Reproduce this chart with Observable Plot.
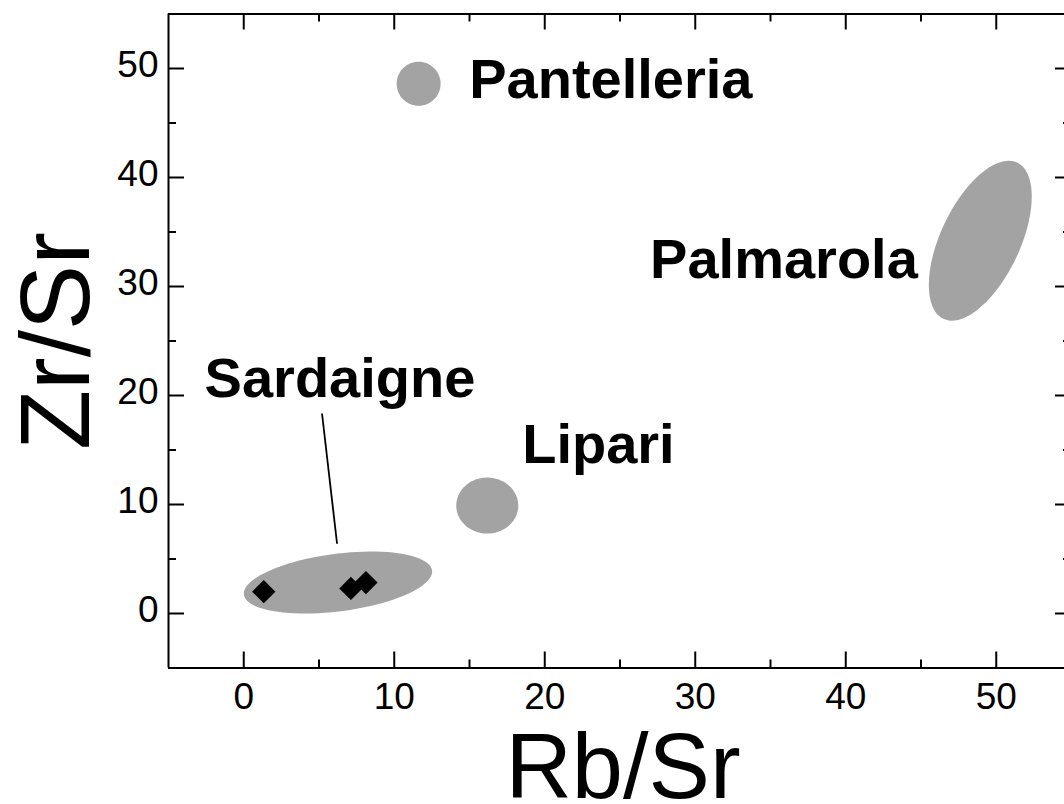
<!DOCTYPE html>
<html>
<head>
<meta charset="utf-8">
<script src="https://cdn.jsdelivr.net/npm/d3@7"></script>
<script src="https://cdn.jsdelivr.net/npm/@observablehq/plot@0.6"></script>
<style>
  html, body { margin: 0; padding: 0; background: #fff; overflow: hidden; }
  #chart svg { display: block; }
</style>
</head>
<body>
<svg width="0" height="0" style="position:absolute">
  <defs>
    <pattern id="halftone" width="2" height="2" patternUnits="userSpaceOnUse">
      <rect width="2" height="2" fill="#bdbdbd"></rect>
      <rect width="1" height="1" fill="#858585"></rect>
      <rect x="1" y="1" width="1" height="1" fill="#8c8c8c"></rect>
    </pattern>
  </defs>
</svg>
<div id="chart"></div>
<script>
// ---- data ----
const regions   = ["Sardaigne", "Lipari", "Palmarola", "Pantelleria"];
const centerX   = [6.26, 16.18, 48.94, 11.62];   // Rb/Sr centre of each field
const centerY   = [2.84, 9.9, 34.2, 48.6];       // Zr/Sr centre of each field
const axisAx    = [6.25, 2.06, 2.45, 1.46];      // first semi-axis (data units)
const axisAy    = [1.11, 0, 7.17, 0];
const axisBx    = [-0.246, 0, 2.385, 0];         // second semi-axis (data units)
const axisBy    = [2.62, 2.57, -1.555, 2.02];

const sampleX   = [1.33, 7.12, 8.12];            // black diamonds
const sampleY   = [2.0, 2.3, 2.84];

const labelText = ["Pantelleria", "Palmarola", "Sardaigne", "Lipari"];
const labelX    = [14.98, 27.0, -2.6, 18.5];
const labelY    = [47.3, 30.8, 19.9, 13.85];

const leaderX1 = [5.2], leaderY1 = [18.35], leaderX2 = [6.2], leaderY2 = [6.4];

const majorTicks = [0, 10, 20, 30, 40, 50];
const minorTicks = [5, 15, 25, 35, 45];
const frameEdges = [-5, 55];

// ---- ellipse outlines from centre + semi-axes ----
const ellipsePts = [];
regions.forEach((r, i) => {
  for (let k = 0; k < 90; k++) {
    const t = (2 * Math.PI * k) / 90;
    ellipsePts.push({
      region: r,
      x: centerX[i] + axisAx[i] * Math.cos(t) + axisBx[i] * Math.sin(t),
      y: centerY[i] + axisAy[i] * Math.cos(t) + axisBy[i] * Math.sin(t)
    });
  }
});
const samples = sampleX.map((x, i) => ({x, y: sampleY[i]}));
const labels = labelText.map((t, i) => ({t, x: labelX[i], y: labelY[i]}));
const leader = [{x1: leaderX1[0], y1: leaderY1[0], x2: leaderX2[0], y2: leaderY2[0]}];

const W = 1064, H = 804, mL = 168, mR = 0, mT = 13.5, mB = 136.5;
const xRight = 1071; // right spine lies just outside the picture
const plotW = W - mL - mR, plotH = H - mT - mB;
const major = 16, minor = 8;
const tick = {stroke: "#000", strokeWidth: 2};

const chart = Plot.plot({
  width: W,
  height: H,
  marginLeft: mL,
  marginRight: mR,
  marginTop: mT,
  marginBottom: mB,
  style: {fontFamily: "'Liberation Sans', Arial, sans-serif", background: "#fff", color: "#000"},
  x: {domain: [-5, 55], range: [mL, xRight]},
  y: {domain: [-5, 55]},
  marks: [
    Plot.line(ellipsePts, {x: "x", y: "y", z: "region", curve: "linear-closed", fill: "url(#halftone)", stroke: "none"}),
    Plot.dot(samples, {x: "x", y: "y", symbol: "diamond2", r: 10.5, fill: "#000", stroke: "none"}),
    Plot.link(leader, {x1: "x1", y1: "y1", x2: "x2", y2: "y2", stroke: "#000", strokeWidth: 1.8}),
    Plot.text(labels, {x: "x", y: "y", text: "t", textAnchor: "start", lineAnchor: "bottom", fontSize: 56, fontWeight: "bold", fill: "#000"}),
    // ticks, inward, on all four sides
    Plot.tickX(majorTicks, {x: d => d, insetTop: plotH - major, ...tick}),
    Plot.tickX(minorTicks, {x: d => d, insetTop: plotH - minor, ...tick}),
    Plot.tickX(majorTicks, {x: d => d, insetBottom: plotH - major, ...tick}),
    Plot.tickX(minorTicks, {x: d => d, insetBottom: plotH - minor, ...tick}),
    Plot.tickY(majorTicks, {y: d => d, insetRight: plotW - major, ...tick}),
    Plot.tickY(minorTicks, {y: d => d, insetRight: plotW - minor, ...tick}),
    Plot.tickY(majorTicks, {y: d => d, insetLeft: xRight - mL - major, ...tick}),
    Plot.tickY(minorTicks, {y: d => d, insetLeft: xRight - mL - minor, ...tick}),
    Plot.axisX(majorTicks, {anchor: "bottom", tickSize: 0, tickPadding: 15, fontSize: 37, label: null}),
    Plot.axisY(majorTicks, {anchor: "left", tickSize: 0, tickPadding: 10, fontSize: 37, dy: -3, label: null}),
    Plot.ruleX(frameEdges, {x: d => d, stroke: "#000", strokeWidth: 2}),
    Plot.ruleY(frameEdges, {y: d => d, stroke: "#000", strokeWidth: 2}),
    Plot.text(["Rb/Sr"], {frameAnchor: "bottom", x: () => 25, dx: 3, dy: 130, textAnchor: "middle", lineAnchor: "bottom", fontSize: 92, fill: "#000"}),
    Plot.text(["Zr/Sr"], {frameAnchor: "left", dx: -80, rotate: -90, textAnchor: "middle", lineAnchor: "bottom", fontSize: 98, fill: "#000"})
  ]
});
document.getElementById("chart").appendChild(chart);
</script>
</body>
</html>
